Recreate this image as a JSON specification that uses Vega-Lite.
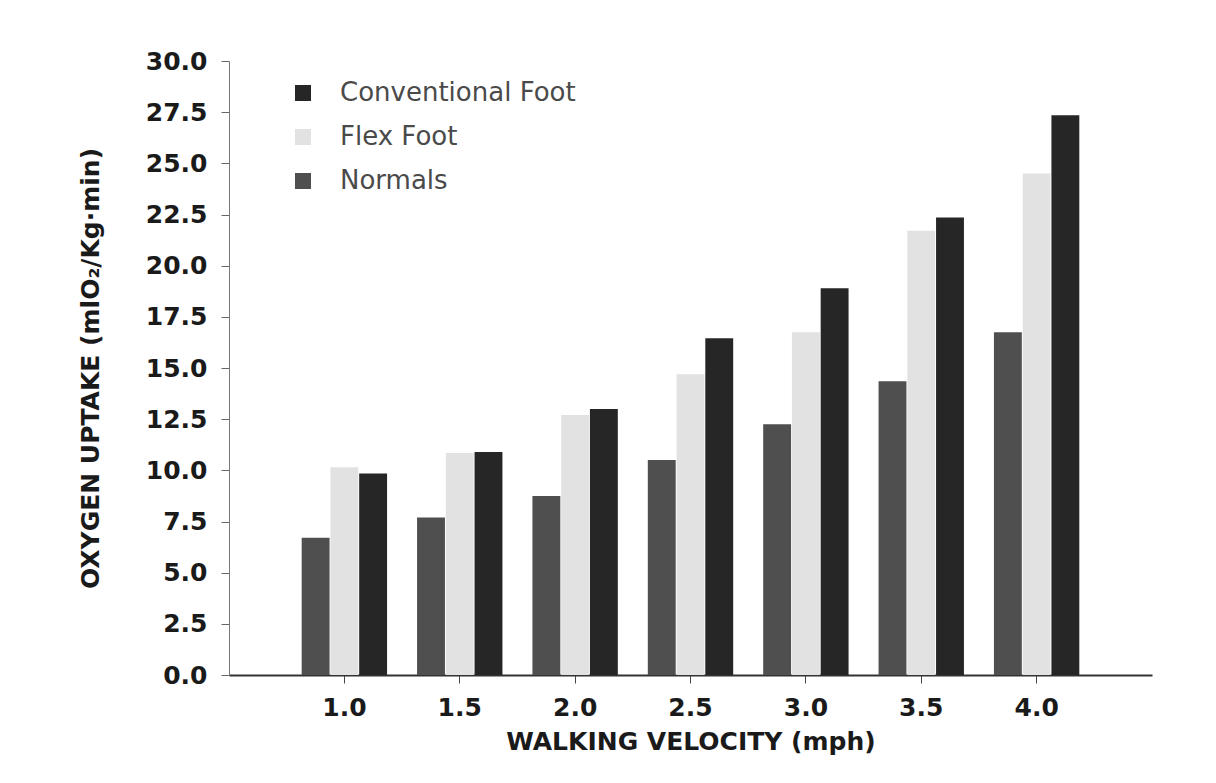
{
  "$schema": "https://vega.github.io/schema/vega-lite/v6.json",
  "width": 923,
  "height": 614,
  "autosize": "none",
  "padding": {"left": 229, "top": 61, "right": 64, "bottom": 108},
  "background": "white",
  "config": {"view": {"stroke": null}, "font": "DejaVu Sans"},
  "data": {
    "values": [
      {"velocity": "1.0", "group": "Normals", "uptake": 6.7},
      {"velocity": "1.0", "group": "Flex Foot", "uptake": 10.15},
      {"velocity": "1.0", "group": "Conventional Foot", "uptake": 9.85},
      {"velocity": "1.5", "group": "Normals", "uptake": 7.7},
      {"velocity": "1.5", "group": "Flex Foot", "uptake": 10.85},
      {"velocity": "1.5", "group": "Conventional Foot", "uptake": 10.9},
      {"velocity": "2.0", "group": "Normals", "uptake": 8.75},
      {"velocity": "2.0", "group": "Flex Foot", "uptake": 12.7},
      {"velocity": "2.0", "group": "Conventional Foot", "uptake": 13.0},
      {"velocity": "2.5", "group": "Normals", "uptake": 10.5},
      {"velocity": "2.5", "group": "Flex Foot", "uptake": 14.7},
      {"velocity": "2.5", "group": "Conventional Foot", "uptake": 16.45},
      {"velocity": "3.0", "group": "Normals", "uptake": 12.25},
      {"velocity": "3.0", "group": "Flex Foot", "uptake": 16.75},
      {"velocity": "3.0", "group": "Conventional Foot", "uptake": 18.9},
      {"velocity": "3.5", "group": "Normals", "uptake": 14.35},
      {"velocity": "3.5", "group": "Flex Foot", "uptake": 21.7},
      {"velocity": "3.5", "group": "Conventional Foot", "uptake": 22.35},
      {"velocity": "4.0", "group": "Normals", "uptake": 16.75},
      {"velocity": "4.0", "group": "Flex Foot", "uptake": 24.5},
      {"velocity": "4.0", "group": "Conventional Foot", "uptake": 27.35}
    ]
  },
  "mark": {"type": "bar"},
  "encoding": {
    "x": {
      "field": "velocity",
      "type": "ordinal",
      "sort": ["1.0", "1.5", "2.0", "2.5", "3.0", "3.5", "4.0"],
      "scale": {"paddingInner": 0.26, "paddingOuter": 0.63},
      "axis": {
        "title": "WALKING VELOCITY (mph)",
        "labelAngle": 0,
        "labelFont": "DejaVu Sans",
        "labelFontWeight": "bold",
        "labelFontSize": 25,
        "labelColor": "#1a1a1a",
        "labelPadding": 12,
        "tickSize": 8,
        "tickColor": "#444",
        "domainColor": "#333",
        "domainWidth": 2,
        "titleFont": "DejaVu Sans",
        "titleFontWeight": "bold",
        "titleFontSize": 25,
        "titleColor": "#1a1a1a",
        "titlePadding": 9
      }
    },
    "xOffset": {
      "field": "group",
      "sort": ["Normals", "Flex Foot", "Conventional Foot"],
      "scale": {"paddingInner": 0.03}
    },
    "y": {
      "field": "uptake",
      "type": "quantitative",
      "scale": {"domain": [0, 30], "nice": false},
      "axis": {
        "title": "OXYGEN UPTAKE (mlO₂/Kg·min)",
        "values": [0, 2.5, 5, 7.5, 10, 12.5, 15, 17.5, 20, 22.5, 25, 27.5, 30],
        "format": ".1f",
        "grid": false,
        "labelFont": "DejaVu Sans",
        "labelFontWeight": "bold",
        "labelFontSize": 25,
        "labelColor": "#1a1a1a",
        "labelPadding": 14,
        "tickSize": 8,
        "tickColor": "#666",
        "domainColor": "#777",
        "titleFont": "DejaVu Sans",
        "titleFontWeight": "bold",
        "titleFontSize": 25,
        "titleColor": "#1a1a1a",
        "titlePadding": 42
      }
    },
    "color": {
      "field": "group",
      "type": "nominal",
      "scale": {
        "domain": ["Conventional Foot", "Flex Foot", "Normals"],
        "range": ["#262626", "#e2e2e2", "#4f4f4f"]
      },
      "legend": {
        "title": null,
        "orient": "none",
        "legendX": 61,
        "legendY": 19,
        "padding": 0,
        "symbolType": "square",
        "symbolSize": 256,
        "symbolStrokeWidth": 0,
        "labelFont": "DejaVu Sans",
        "labelFontSize": 26,
        "labelLimit": 500,
        "labelColor": "#4a4a4a",
        "labelOffset": 24,
        "rowPadding": 18
      }
    }
  }
}
